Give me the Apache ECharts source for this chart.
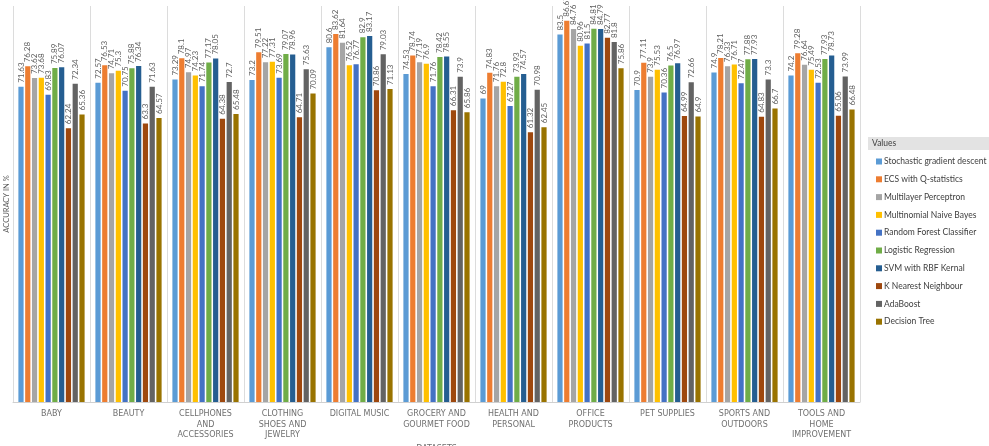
<!DOCTYPE html>
<html><head><meta charset="utf-8">
<script src="https://cdn.jsdelivr.net/npm/echarts@6/dist/echarts.min.js"></script>
<style>html,body{margin:0;padding:0;background:#fff}#c{width:989px;height:446px}</style>
</head><body><div id="c"></div>
<script>
const categories = ["BABY","BEAUTY","CELLPHONES\nAND\nACCESSORIES","CLOTHING\nSHOES AND\nJEWELRY","DIGITAL MUSIC","GROCERY AND\nGOURMET FOOD","HEALTH AND\nPERSONAL","OFFICE\nPRODUCTS","PET SUPPLIES","SPORTS AND\nOUTDOORS","TOOLS AND\nHOME\nIMPROVEMENT"];
const seriesNames = ["Stochastic gradient descent","ECS with Q-statistics","Multilayer Perceptron","Multinomial Naive Bayes","Random Forest Classifier","Logistic Regression","SVM with RBF Kernal","K Nearest Neighbour","AdaBoost","Decision Tree"];
const colors = ["#5B9BD5","#ED7D31","#A5A5A5","#FFC000","#4472C4","#70AD47","#255E91","#9E480E","#636363","#997300"];
const sgd      = [71.63,72.57,73.29,73.2,80.6,74.53,69,83.5,70.9,74.9,74.2];
const ecs      = [76.28,76.53,78.1,79.51,83.62,78.74,74.83,86.67,77.11,78.21,79.28];
const mlp      = [73.62,74.71,74.97,77.22,81.64,77.19,71.76,84.76,73.9,76.33,76.64];
const mnb      = [73.68,75.3,74.23,77.31,76.52,76.9,72.8,80.96,75.53,76.71,75.49];
const rf       = [69.83,70.75,71.74,73.69,76.77,71.76,67.27,81.5,70.36,72.47,72.53];
const lr       = [75.89,75.88,77.17,79.07,82.9,78.42,73.93,84.81,76.5,77.88,77.93];
const svm      = [76.07,76.34,78.05,78.96,83.17,78.55,74.57,84.79,76.97,77.93,78.73];
const knn      = [62.24,63.3,64.38,64.71,70.86,66.31,61.32,82.77,64.99,64.83,65.06];
const ada      = [72.34,71.63,72.7,75.63,79.03,73.9,70.98,81.8,72.66,73.3,73.99];
const dt       = [65.36,64.57,65.48,70.09,71.13,65.86,62.45,75.86,64.9,66.7,66.48];
const allData = [sgd,ecs,mlp,mnb,rf,lr,svm,knn,ada,dt];

const font = 'Lato, "Liberation Sans", sans-serif';
const chart = echarts.init(document.getElementById('c'));
chart.setOption({
  animation:false,
  color: colors,
  grid:{left:13,right:129,top:6,bottom:44,containLabel:false,outerBoundsMode:'none'},
  legend:{
    orient:'vertical', left:871, top:152, itemWidth:6, itemHeight:6, itemGap:8.8,
    icon:'rect', data:seriesNames,
    textStyle:{fontFamily:font,fontSize:8.5,color:'#404040',padding:[0,0,0,-3]}
  },
  graphic:[
    {type:'rect',left:868,top:137,shape:{width:121,height:13},style:{fill:'#e3e3e3'}},
    {type:'text',left:872,top:139,style:{text:'Values',font:'8.5px '+font,fill:'#404040'}}
  ],
  xAxis:{
    type:'category', data:categories, boundaryGap:true,
    axisLine:{lineStyle:{color:'#d0d0d0'}},
    axisTick:{show:false},
    splitLine:{show:true,lineStyle:{color:'#dcdcdc',width:1}},
    axisLabel:{interval:0,fontFamily:'"DejaVu Sans", sans-serif',fontSize:8,color:'#707070',lineHeight:10.5,margin:7},
    name:'DATASETS', nameLocation:'middle', nameGap:40,
    nameTextStyle:{fontFamily:'"DejaVu Sans", sans-serif',fontSize:8,color:'#707070'}
  },
  yAxis:{
    type:'value', min:0, max:90,
    axisLine:{show:false}, axisTick:{show:false}, axisLabel:{show:false}, splitLine:{show:false},
    name:'ACCURACY IN %', nameLocation:'middle', nameGap:2, nameRotate:90,
    nameTextStyle:{fontFamily:font,fontSize:7.5,color:'#595959'}
  },
  series: seriesNames.map((n,i)=>({
    name:n, type:'bar', data:allData[i],
    barCategoryGap:'14%', barGap:'30%',
    label:{show:true, position:'top', rotate:90, align:'left', verticalAlign:'middle', distance:4,
      fontFamily:font, fontSize:8, color:'#606060'}
  }))
});
</script></body></html>
